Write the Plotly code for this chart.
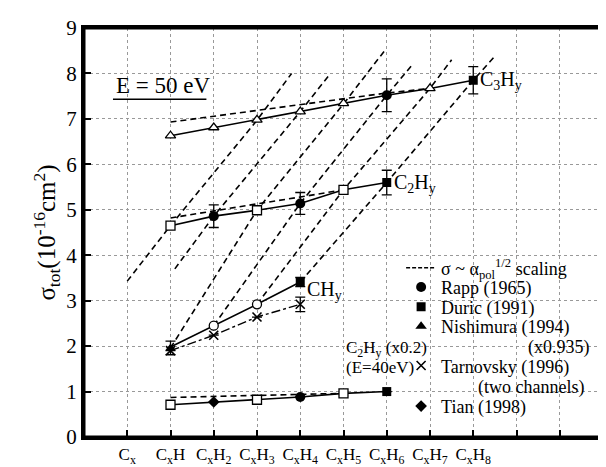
import plotly.graph_objects as go

# ---------------- data ----------------
tick_pos = list(range(-1, 12))
tick_text = ["", "C<sub>x</sub>", "C<sub>x</sub>H", "C<sub>x</sub>H<sub>2</sub>", "C<sub>x</sub>H<sub>3</sub>",
             "C<sub>x</sub>H<sub>4</sub>", "C<sub>x</sub>H<sub>5</sub>", "C<sub>x</sub>H<sub>6</sub>",
             "C<sub>x</sub>H<sub>7</sub>", "C<sub>x</sub>H<sub>8</sub>", "", "", ""]
x_range = [-1, 11]
y_range = [0, 9]

# C3Hy
c3_x = [1, 2, 3, 4, 5, 6, 7, 8]
c3_y = [6.63, 6.81, 6.98, 7.16, 7.34, 7.52, 7.67, 7.85]
c3_scal_x = [1, 2, 3, 4, 5, 6, 7]
c3_scal_y = [6.93, 7.06, 7.19, 7.31, 7.45, 7.57, 7.67]
# C2Hy
c2_x = [1, 2, 3, 4, 5, 6]
c2_y = [4.65, 4.86, 4.99, 5.14, 5.44, 5.60]
c2_scal_x = [1, 2, 3, 4, 5]
c2_scal_y = [4.82, 4.98, 5.13, 5.28, 5.44]
# CHy
ch_x = [1, 2, 3, 4]
ch_y = [1.98, 2.45, 2.92, 3.41]
tarn_x = [1, 2, 3, 4]
tarn_y = [1.90, 2.24, 2.64, 2.92]
tarn_err = [0.0, 0.0, 0.0, 0.16]
# C2Hy (x0.2), E = 40 eV
c2l_x = [1, 2, 3, 4, 5, 6]
c2l_y = [0.71, 0.77, 0.82, 0.88, 0.96, 1.00]
c2l_scal_x = [1, 2, 3, 4, 5]
c2l_scal_y = [0.87, 0.89, 0.92, 0.94, 0.96]

# individual data sources
rapp_x = [6, 2, 4, 4]
rapp_y = [7.52, 4.86, 5.14, 0.88]
rapp_err = [0.36, 0.25, 0.24, 0.0]
duric_x = [8, 6, 4, 6]
duric_y = [7.85, 5.60, 3.41, 1.00]
duric_err = [0.30, 0.27, 0.10, 0.0]
nish_x = [1]
nish_y = [1.96]
nish_err = [0.15]
tian_x = [2]
tian_y = [0.77]
open_tri_x = [1, 2, 3, 4, 5, 7]
open_tri_y = [6.63, 6.81, 6.98, 7.16, 7.34, 7.67]
open_sq_x = [1, 3, 5, 1, 3, 5]
open_sq_y = [4.65, 4.99, 5.44, 0.71, 0.82, 0.96]
open_ci_x = [2, 3]
open_ci_y = [2.45, 2.92]

# sigma ~ alpha^(1/2) scaling diagonals
diag_x = [[0.0, 1, 3, 3.8],
          [1.1, 2, 4, 4.7],
          [1, 3, 5, 5.95],
          [2, 4, 6, 6.6],
          [3, 5, 7, 7.5],
          [4, 6, 8, 8.5]]
diag_y = [[3.43, 4.65, 6.97, 8.0],
          [3.7, 4.86, 7.16, 8.0],
          [1.96, 4.99, 7.33, 8.5],
          [2.45, 5.14, 7.52, 8.2],
          [2.92, 5.44, 7.67, 8.3],
          [3.41, 5.60, 7.85, 8.38]]

FONT = "Liberation Serif"
K = "black"
DASH = "6px,4px"

fig = go.Figure()

for dx, dy in zip(diag_x, diag_y):
    fig.add_trace(go.Scatter(x=dx, y=dy, mode="lines", showlegend=False,
                             line=dict(color=K, width=1.6, dash=DASH)))

for sx, sy in [(c3_scal_x, c3_scal_y), (c2_scal_x, c2_scal_y), (c2l_scal_x, c2l_scal_y)]:
    fig.add_trace(go.Scatter(x=sx, y=sy, mode="lines", showlegend=False,
                             line=dict(color=K, width=1.6, dash=DASH)))

for sx, sy in [(c3_x, c3_y), (c2_x, c2_y), (ch_x, ch_y), (c2l_x, c2l_y)]:
    fig.add_trace(go.Scatter(x=sx, y=sy, mode="lines", showlegend=False,
                             line=dict(color=K, width=1.6)))

fig.add_trace(go.Scatter(x=tarn_x, y=tarn_y, mode="lines", showlegend=False,
                         line=dict(color=K, width=1.4, dash="dashdot")))

def errs(arr):
    return dict(type="data", array=arr, color=K, thickness=1.3, width=5)

fig.add_trace(go.Scatter(x=open_tri_x, y=open_tri_y, mode="markers", showlegend=False,
                         marker=dict(symbol="triangle-up", size=9, color="white", line=dict(color=K, width=1.3))))
fig.add_trace(go.Scatter(x=open_sq_x, y=open_sq_y, mode="markers", showlegend=False,
                         marker=dict(symbol="square", size=9, color="white", line=dict(color=K, width=1.3))))
fig.add_trace(go.Scatter(x=open_ci_x, y=open_ci_y, mode="markers", showlegend=False,
                         marker=dict(symbol="circle", size=9, color="white", line=dict(color=K, width=1.3))))
fig.add_trace(go.Scatter(x=rapp_x, y=rapp_y, mode="markers", showlegend=False, error_y=errs(rapp_err),
                         marker=dict(symbol="circle", size=10, color=K)))
fig.add_trace(go.Scatter(x=duric_x, y=duric_y, mode="markers", showlegend=False, error_y=errs(duric_err),
                         marker=dict(symbol="square", size=9, color=K)))
fig.add_trace(go.Scatter(x=nish_x, y=nish_y, mode="markers", showlegend=False, error_y=errs(nish_err),
                         marker=dict(symbol="triangle-up", size=9, color=K)))
fig.add_trace(go.Scatter(x=tarn_x, y=tarn_y, mode="markers", showlegend=False, error_y=errs(tarn_err),
                         marker=dict(symbol="x-thin", size=9, color=K, line=dict(color=K, width=1.6))))
fig.add_trace(go.Scatter(x=tian_x, y=tian_y, mode="markers", showlegend=False,
                         marker=dict(symbol="diamond", size=9, color=K)))

# legend entries (one small legend per row so rows sit where the reference has them)
leg_names = ["σ ~ α<sub>pol</sub><sup>1/2</sup> scaling", "Rapp (1965)", "Duric (1991)",
             "Nishimura (1994)", "Tarnovsky (1996)", "Tian (1998)"]
leg_rows = [0.413, 0.366, 0.318, 0.270, 0.174, 0.075]
leg_styles = [
    dict(mode="lines", line=dict(color=K, width=1.4, dash="4px,2px")),
    dict(mode="markers", marker=dict(symbol="circle", size=10, color=K)),
    dict(mode="markers", marker=dict(symbol="square", size=9, color=K)),
    dict(mode="markers", marker=dict(symbol="triangle-up", size=10, color=K)),
    dict(mode="markers", marker=dict(symbol="x-thin", size=9, color=K, line=dict(color=K, width=1.6))),
    dict(mode="markers", marker=dict(symbol="diamond", size=9, color=K)),
]
legend_layouts = {}
for i, (name, row, kw) in enumerate(zip(leg_names, leg_rows, leg_styles)):
    lid = "legend" if i == 0 else "legend%d" % (i + 1)
    fig.add_trace(go.Scatter(x=[None], y=[None], name=name, showlegend=True, legend=lid, **kw))
    legend_layouts[lid] = dict(x=0.611, y=row, xanchor="left", yanchor="middle",
                               bgcolor="rgba(0,0,0,0)", font=dict(size=18, family=FONT, color=K))

ann = [
    dict(x=8.12, y=7.85, text="C<sub>3</sub>H<sub>y</sub>", xanchor="left", font_size=20),
    dict(x=6.12, y=5.58, text="C<sub>2</sub>H<sub>y</sub>", xanchor="left", font_size=20),
    dict(x=4.1, y=3.22, text="CH<sub>y</sub>", xanchor="left", font_size=20),
    dict(x=5.0, y=1.93, text="C<sub>2</sub>H<sub>y</sub> (x0.2)", xanchor="left", font_size=17),
    dict(x=5.0, y=1.52, text="(E=40eV)", xanchor="left", font_size=17),
    dict(x=10.75, y=1.97, text="(x0.935)", xanchor="right", font_size=18),
    dict(x=10.6, y=1.10, text="(two channels)", xanchor="right", font_size=18),
    dict(x=-0.3, y=7.74, text="E = 50 eV", xanchor="left", font_size=23),
]
for a in ann:
    fs = a.pop("font_size")
    fig.add_annotation(showarrow=False, font=dict(family=FONT, size=fs, color=K), **a)

fig.add_shape(type="line", x0=-0.33, x1=1.83, y0=7.43, y1=7.43, line=dict(color=K, width=1.5))
fig.add_shape(type="rect", xref="paper", yref="paper", x0=0, x1=1, y0=0, y1=1,
              line=dict(color=K, width=3), layer="above")

axis_common = dict(showline=True, linecolor=K, linewidth=3, mirror=True, ticks="inside",
                   ticklen=7, tickcolor=K, tickwidth=1.5, showgrid=True, gridcolor="#999",
                   griddash="dot", gridwidth=1, zeroline=False)

fig.update_layout(
    width=606, height=467,
    margin=dict(l=76, r=8, t=13, b=30),
    paper_bgcolor="white", plot_bgcolor="white",
    font=dict(family=FONT, color=K),
    xaxis=dict(range=x_range, tickvals=tick_pos, ticktext=tick_text,
               tickfont=dict(size=17), **axis_common),
    yaxis=dict(range=y_range, tickvals=list(range(10)), tickfont=dict(size=21),
               title=dict(text="σ<sub>tot</sub>(10<sup>-16</sup>cm<sup>2</sup>)", font=dict(size=25), standoff=4),
               **axis_common),
    **legend_layouts,
)

fig.write_html("out.html")
